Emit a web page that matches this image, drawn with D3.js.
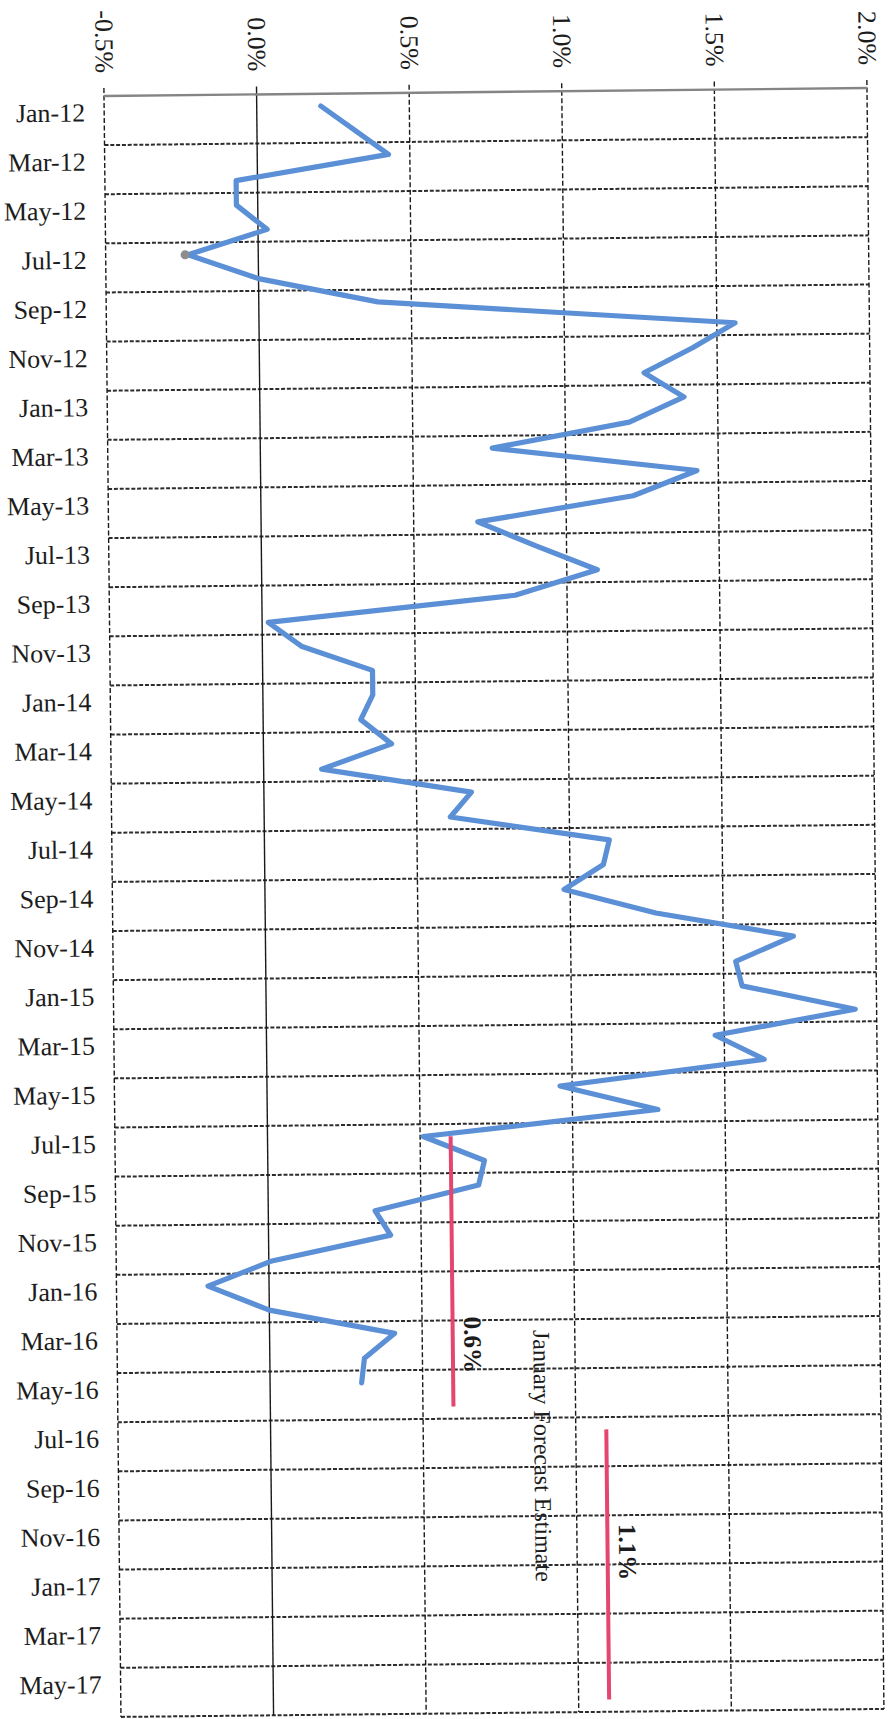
<!DOCTYPE html>
<html>
<head>
<meta charset="utf-8">
<script src="https://cdn.jsdelivr.net/npm/d3@7"></script>
<style>
  html, body { margin: 0; padding: 0; background: #ffffff; }
  svg { display: block; }
  text { font-family: "Liberation Serif", "Times New Roman", serif; fill: #1c1c1c; }
</style>
</head>
<body>
<svg id="chart" width="890" height="1719"></svg>
<script>
// Monthly categories on the vertical axis: Jan-12 through Jun-17
const monthNames = ["Jan","Feb","Mar","Apr","May","Jun","Jul","Aug","Sep","Oct","Nov","Dec"];
const years = ["12","13","14","15","16","17"];
const categories = years.flatMap(yy => monthNames.map(m => `${m}-${yy}`)).slice(0, 66);

// Labelled categories (every second month)
const tickLabels = ["Jan-12","Mar-12","May-12","Jul-12","Sep-12","Nov-12",
  "Jan-13","Mar-13","May-13","Jul-13","Sep-13","Nov-13",
  "Jan-14","Mar-14","May-14","Jul-14","Sep-14","Nov-14",
  "Jan-15","Mar-15","May-15","Jul-15","Sep-15","Nov-15",
  "Jan-16","Mar-16","May-16","Jul-16","Sep-16","Nov-16",
  "Jan-17","Mar-17","May-17"];

// Value axis ticks (percent)
const valueTicks = [-0.5, 0, 0.5, 1, 1.5, 2];
const valueTickLabels = ["-0.5%","0.0%","0.5%","1.0%","1.5%","2.0%"];

// Monthly series, Jan-12 .. May-16 (percent)
const seriesMonths = categories.slice(0, 53);
const seriesValues = [
  0.21, 0.32, 0.43, -0.07, -0.07, 0.03, -0.23, 0.00, 0.39, 1.56, 1.42, 1.26,
  1.39, 1.21, 0.76, 1.43, 1.22, 0.71, 0.90, 1.10, 0.83, 0.02, 0.13, 0.36,
  0.36, 0.32, 0.42, 0.19, 0.68, 0.61, 1.13, 1.11, 0.98, 1.28, 1.73, 1.54,
  1.56, 1.93, 1.47, 1.63, 0.96, 1.28, 0.51, 0.71, 0.69, 0.35, 0.40, 0.01,
  -0.20, 0.00, 0.41, 0.31, 0.30
];
// Highlighted point of the series
const markedMonths = ["Jul-12"];

// Forecast estimates for each fiscal year
const forecastValues = [0.6, 1.1];
const forecastStart = ["Jul-15", "Jul-16"];
const forecastEnd = ["Jun-16", "Jun-17"];
const forecastLabels = ["0.6%", "1.1%"];
const forecastTitle = "January Forecast Estimate";

const svg = d3.select("#chart");
const plotTop = 96, plotBottom = 1717, plotLeft = 104, plotRight = 867;

const x = d3.scaleLinear().domain([-0.5, 2]).range([plotLeft, plotRight]);
const y = d3.scaleBand().domain(categories).range([plotTop, plotBottom]).padding(0);
const yc = c => y(c) + y.bandwidth() / 2;

// the printed page sits slightly askew
const g = svg.append("g").attr("transform", `rotate(-0.6, ${plotLeft}, ${plotTop})`);

// horizontal gridlines at every labelled category boundary
const gridY = tickLabels.slice(1).map(c => y(c)).concat([plotBottom]);
g.append("g").selectAll("line").data(gridY).join("line")
  .attr("x1", plotLeft).attr("x2", plotRight)
  .attr("y1", d => d).attr("y2", d => d)
  .attr("stroke", "#2c2c2c").attr("stroke-width", 2)
  .attr("stroke-dasharray", "4,1.8");

// vertical gridlines (zero line solid)
g.append("g").selectAll("line").data(valueTicks).join("line")
  .attr("x1", d => x(d)).attr("x2", d => x(d))
  .attr("y1", plotTop - 8).attr("y2", plotBottom)
  .attr("stroke", "#1a1a1a").attr("stroke-width", 1.4)
  .attr("stroke-dasharray", d => d === 0 ? null : "5,2.5");

// category axis line along the top
g.append("line")
  .attr("x1", plotLeft).attr("x2", plotRight).attr("y1", plotTop).attr("y2", plotTop)
  .attr("stroke", "#858585").attr("stroke-width", 2.4);

// value axis labels, turned on their side
const xAxis = g.append("g").attr("transform", `translate(0,${plotTop})`)
  .call(d3.axisTop(x).tickValues(valueTicks)
    .tickFormat((d, i) => valueTickLabels[i]).tickSize(0));
xAxis.select(".domain").remove();
xAxis.selectAll("text")
  .attr("y", 0).attr("dy", null)
  .attr("transform", "translate(0,-23) rotate(90)")
  .attr("text-anchor", "end")
  .attr("dominant-baseline", "central")
  .style("font-family", "Liberation Serif")
  .style("font-size", "26px")
  .style("fill", "#1c1c1c");

// category labels
const yAxis = g.append("g").attr("transform", `translate(${plotLeft},0)`)
  .call(d3.axisLeft(y).tickValues(tickLabels).tickSize(0).tickPadding(19));
yAxis.select(".domain").remove();
yAxis.selectAll("text")
  .attr("dy", "0.5em")
  .style("font-family", "Liberation Serif")
  .style("font-size", "26px")
  .style("fill", "#1c1c1c");

// series line
const seriesData = seriesMonths.map((m, i) => ({ m, v: seriesValues[i] }));
const line = d3.line().x(d => x(d.v)).y(d => yc(d.m));
g.append("path").datum(seriesData)
  .attr("d", line)
  .attr("fill", "none")
  .attr("stroke", "#5b8fd6")
  .attr("stroke-width", 5.2)
  .attr("stroke-linejoin", "round")
  .attr("stroke-linecap", "round");

// highlighted point
g.append("g").selectAll("circle")
  .data(seriesData.filter(d => markedMonths.includes(d.m))).join("circle")
  .attr("cx", d => x(d.v) - 3).attr("cy", d => yc(d.m)).attr("r", 4.5)
  .attr("fill", "#8d8d8d");

// forecast estimate bars
g.append("g").selectAll("line").data(forecastValues).join("line")
  .attr("x1", d => x(d)).attr("x2", d => x(d))
  .attr("y1", (d, i) => yc(forecastStart[i]))
  .attr("y2", (d, i) => yc(forecastEnd[i]))
  .attr("stroke", "#e4466f").attr("stroke-width", 4);

// forecast value labels
const labelY = [y("Apr-16"), yc("Dec-16")];
g.append("g").selectAll("text").data(forecastValues).join("text")
  .attr("transform", (d, i) => `translate(${x(d) + 20},${labelY[i]}) rotate(90)`)
  .attr("text-anchor", "middle")
  .attr("dominant-baseline", "central")
  .style("font-size", "25px")
  .style("font-weight", "bold")
  .text((d, i) => forecastLabels[i]);

// forecast title
g.append("text")
  .attr("transform", `translate(${x(0.89)},${yc("Mar-16") + 124}) rotate(90)`)
  .attr("text-anchor", "middle")
  .attr("dominant-baseline", "central")
  .style("font-size", "24px")
  .text(forecastTitle);
</script>
</body>
</html>
